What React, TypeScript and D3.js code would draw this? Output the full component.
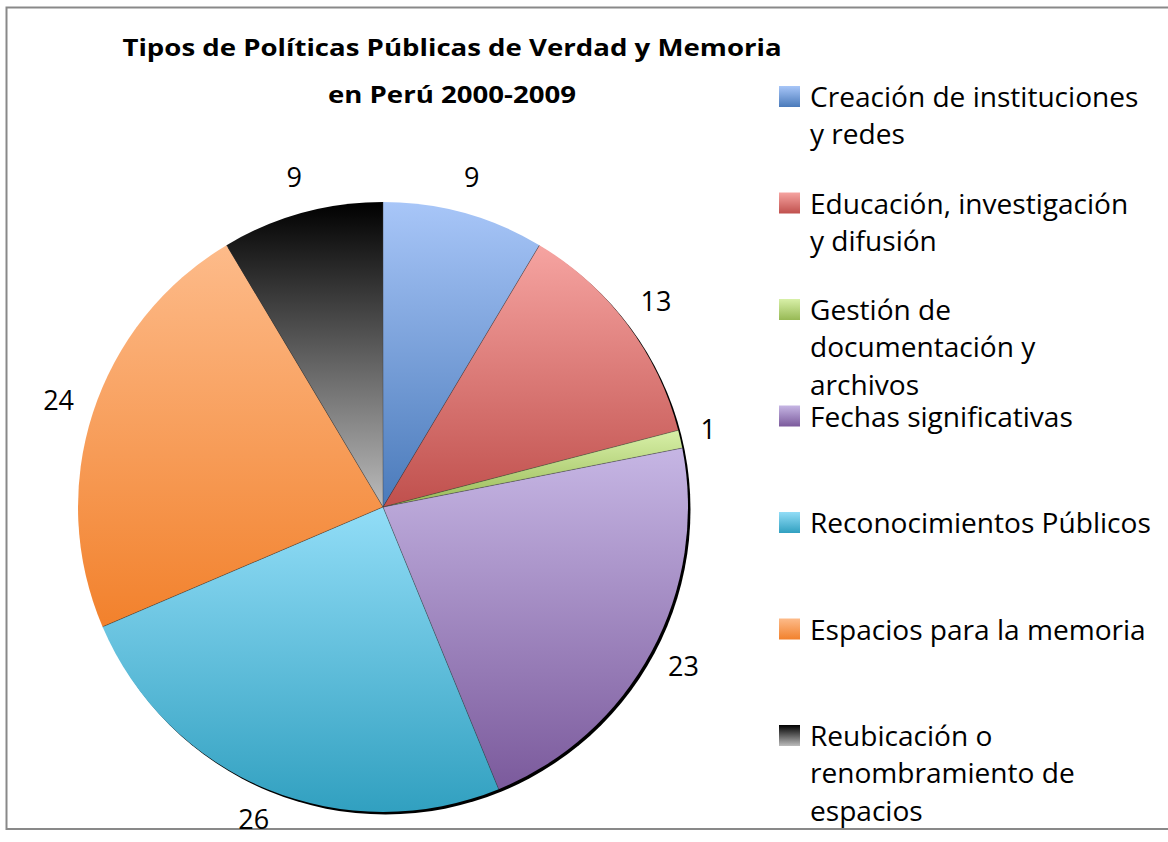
import { pie as d3pie, arc as d3arc } from "d3";

const categories = [
  "Creación de instituciones y redes",
  "Educación, investigación y difusión",
  "Gestión de documentación y archivos",
  "Fechas significativas",
  "Reconocimientos Públicos",
  "Espacios para la memoria",
  "Reubicación o renombramiento de espacios",
];
const values = [9, 13, 1, 23, 26, 24, 9];
// legend text broken the way the original wraps it
const legendLines = [
  ["Creación de instituciones", "y redes"],
  ["Educación, investigación", "y difusión"],
  ["Gestión de", "documentación y", "archivos"],
  ["Fechas significativas"],
  ["Reconocimientos Públicos"],
  ["Espacios para la memoria"],
  ["Reubicación o", "renombramiento de", "espacios"],
];
const topColors = ["#a8c6f8", "#f6a4a1", "#d8f0a8", "#c6b6e4", "#92ddf7", "#fdbb8a", "#000000"];
const bottomColors = ["#4a7aba", "#c0504d", "#97b955", "#7b5a9c", "#31a0c0", "#f2812c", "#bcbcbc"];
const titleLines = ["Tipos de Políticas Públicas de Verdad y Memoria", "en Perú 2000-2009"];

const W = 1168;
const H = 842;
const cx = 383;
const cy = 507;
const R = 305;
const font = "'Open Sans', 'Noto Sans', sans-serif";
const fs = 27;
// the original text is a bit wider than Open Sans, stretch it slightly
const stretch = 1.04;

export default function App() {
  const arcs = d3pie<number>().sort(null).value((d) => d)(values);
  const arcGen = d3arc<any>().innerRadius(0).outerRadius(R);
  const labelR = 326;

  return (
    <svg
      width={W}
      height={H}
      style={{ position: "absolute", left: 0, top: 0, background: "#fff" }}
      fontFamily={font}
    >
      <defs>
        {values.map((_, i) => (
          <linearGradient key={i} id={`g${i}`} x1="0" x2="0" y1="0" y2="1">
            <stop offset="0%" stopColor={topColors[i]} />
            <stop offset="100%" stopColor={bottomColors[i]} />
          </linearGradient>
        ))}
        <filter id="shadow" x="-10%" y="-10%" width="120%" height="120%">
          <feGaussianBlur stdDeviation="0.6" />
        </filter>
      </defs>

      {/* chart frame */}
      <rect x={6.5} y={7.5} width={W + 10} height={821.5} fill="none" stroke="#898989" strokeWidth={2} />

      {/* title */}
      <g transform="translate(452,0) scale(1.15,1)">
        {titleLines.map((t, i) => (
          <text
            key={i}
            x={0}
            y={56 + i * 47}
            textAnchor="middle"
            fontWeight="bold"
            fontSize={24}
            fill="#000"
          >
            {t}
          </text>
        ))}
      </g>

      {/* pie */}
      <g transform={`translate(${cx},${cy})`}>
        <circle cx={2.5} cy={2.5} r={R} fill="#000" filter="url(#shadow)" />
        {arcs.map((a, i) => (
          <path key={i} d={arcGen(a) ?? undefined} fill={`url(#g${i})`} />
        ))}
        {/* thin separators between slices */}
        {arcs.map((a, i) => (
          <line
            key={`s${i}`}
            x1={0}
            y1={0}
            x2={R * Math.sin(a.startAngle)}
            y2={-R * Math.cos(a.startAngle)}
            stroke="#3a3a3a"
            strokeOpacity={0.6}
            strokeWidth={0.7}
          />
        ))}
        {/* value labels just outside the rim */}
        {arcs.map((a, i) => {
          const mid = (a.startAngle + a.endAngle) / 2;
          const ux = Math.sin(mid);
          const uy = -Math.cos(mid);
          const label = String(values[i]);
          const w = label.length * fs * 0.56;
          const h = fs;
          const x = labelR * ux + (w / 2) * ux;
          const y = labelR * uy + (h / 2) * uy - 2;
          return (
            <text key={`l${i}`} x={x} y={y} dy="0.36em" textAnchor="middle" fontSize={fs} fill="#000">
              {label}
            </text>
          );
        })}
      </g>

      {/* legend */}
      {legendLines.map((lines, i) => {
        const base = 107 + i * 106.5;
        return (
          <g key={i}>
            <title>{categories[i]}</title>
            <rect x={779} y={base - 21} width={21} height={21} fill={`url(#g${i})`} />
            <g transform={`translate(810,${base}) scale(${stretch},1)`}>
              {lines.map((t, j) => (
                <text key={j} x={0} y={j * 37.5} fontSize={fs} fill="#000">
                  {t}
                </text>
              ))}
            </g>
          </g>
        );
      })}
    </svg>
  );
}
